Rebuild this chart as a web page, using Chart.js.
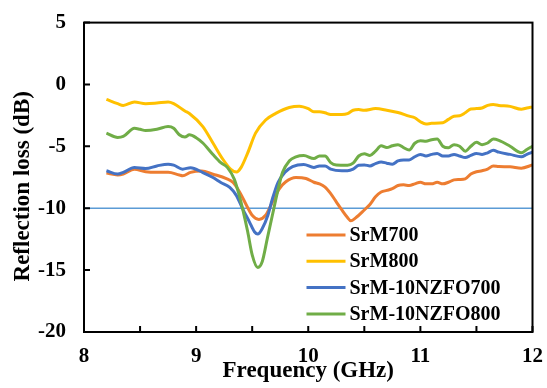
<!DOCTYPE html>
<html>
<head>
<meta charset="utf-8">
<script src="https://cdn.jsdelivr.net/npm/chart.js@4.4.1/dist/chart.umd.min.js"></script>
<style>
  html, body { margin: 0; padding: 0; background: #fff; }
  #wrap { width: 547px; height: 388px; }
</style>
</head>
<body>
<div id="wrap"><canvas id="rlChart" width="547" height="388"></canvas></div>
<script>
// series names
const seriesNames = ['SrM700', 'SrM800', 'SrM-10NZFO700', 'SrM-10NZFO800'];

// SrM700
const srm700Freq = [8.2, 8.3, 8.35, 8.45, 8.55, 8.65, 8.75, 8.85, 8.88, 8.95, 9.05, 9.15, 9.27, 9.33, 9.39, 9.45, 9.5, 9.56, 9.62, 9.68, 9.74, 9.8, 9.89, 9.98, 10.05, 10.1, 10.15, 10.2, 10.25, 10.3, 10.35, 10.38, 10.42, 10.5, 10.55, 10.6, 10.65, 10.7, 10.75, 10.8, 10.85, 10.9, 10.95, 11.0, 11.05, 11.1, 11.15, 11.2, 11.25, 11.3, 11.35, 11.4, 11.45, 11.5, 11.55, 11.6, 11.65, 11.7, 11.8, 11.9, 12.0];
const srm700Loss = [-7.16, -7.31, -7.24, -6.84, -7.05, -7.1, -7.1, -7.31, -7.37, -7.1, -6.99, -7.25, -7.6, -7.92, -8.72, -9.78, -10.57, -10.9, -10.57, -9.51, -8.45, -7.86, -7.52, -7.6, -7.9, -8.03, -8.29, -8.82, -9.48, -10.14, -10.75, -11.01, -10.8, -10.14, -9.69, -9.08, -8.69, -8.56, -8.42, -8.16, -8.11, -8.16, -8.03, -7.9, -8.03, -8.03, -7.9, -8.03, -7.9, -7.71, -7.68, -7.63, -7.24, -7.05, -6.97, -6.84, -6.58, -6.63, -6.65, -6.76, -6.5];

// SrM800
const srm800Freq = [8.2, 8.3, 8.35, 8.45, 8.55, 8.65, 8.75, 8.8, 8.9, 8.94, 9.06, 9.15, 9.24, 9.31, 9.36, 9.4, 9.46, 9.53, 9.62, 9.71, 9.83, 9.92, 10.0, 10.05, 10.1, 10.15, 10.2, 10.3, 10.35, 10.4, 10.45, 10.5, 10.6, 10.7, 10.8, 10.9, 10.95, 11.0, 11.05, 11.1, 11.2, 11.25, 11.3, 11.35, 11.4, 11.45, 11.5, 11.55, 11.6, 11.65, 11.7, 11.8, 11.9, 11.95, 12.0];
const srm800Loss = [-1.21, -1.55, -1.69, -1.42, -1.55, -1.5, -1.42, -1.55, -2.14, -2.34, -3.4, -4.73, -6.06, -6.86, -7.07, -6.72, -5.53, -3.93, -2.87, -2.34, -1.86, -1.75, -1.95, -2.21, -2.21, -2.29, -2.42, -2.42, -2.35, -2.08, -2.03, -2.08, -1.95, -2.08, -2.27, -2.56, -2.69, -3.01, -3.19, -3.14, -3.09, -2.82, -2.56, -2.53, -2.29, -1.98, -1.95, -1.9, -1.69, -1.61, -1.69, -1.77, -2.0, -1.9, -1.82];

// SrM-10NZFO700
const nzfo700Freq = [8.2, 8.3, 8.35, 8.45, 8.55, 8.65, 8.75, 8.8, 8.88, 8.95, 9.06, 9.15, 9.22, 9.3, 9.36, 9.415, 9.475, 9.52, 9.55, 9.59, 9.64, 9.68, 9.73, 9.79, 9.86, 9.96, 10.05, 10.1, 10.15, 10.2, 10.3, 10.35, 10.4, 10.45, 10.5, 10.55, 10.6, 10.65, 10.7, 10.75, 10.8, 10.85, 10.9, 10.95, 11.0, 11.05, 11.1, 11.15, 11.2, 11.25, 11.3, 11.35, 11.4, 11.45, 11.5, 11.55, 11.6, 11.65, 11.7, 11.8, 11.9, 11.95, 12.0];
const nzfo700Loss = [-6.97, -7.24, -7.1, -6.71, -6.79, -6.58, -6.44, -6.52, -6.84, -6.72, -7.12, -7.52, -7.92, -8.32, -8.98, -10.05, -11.1, -11.9, -12.09, -11.64, -10.57, -9.25, -7.92, -7.12, -6.64, -6.46, -6.71, -6.58, -6.58, -6.84, -6.97, -6.97, -6.84, -6.52, -6.5, -6.58, -6.39, -6.26, -6.36, -6.44, -6.18, -6.1, -6.1, -5.84, -5.65, -5.78, -5.65, -5.57, -5.78, -5.78, -5.65, -5.78, -5.91, -5.73, -5.57, -5.65, -5.52, -5.31, -5.47, -5.65, -5.84, -5.65, -5.47];

// SrM-10NZFO800
const nzfo800Freq = [8.2, 8.3, 8.35, 8.45, 8.5, 8.55, 8.65, 8.75, 8.8, 8.85, 8.9, 8.94, 9.0, 9.06, 9.15, 9.22, 9.28, 9.34, 9.385, 9.415, 9.46, 9.5, 9.55, 9.59, 9.635, 9.68, 9.725, 9.77, 9.83, 9.89, 9.96, 10.05, 10.1, 10.15, 10.2, 10.25, 10.35, 10.4, 10.45, 10.5, 10.55, 10.6, 10.65, 10.7, 10.75, 10.8, 10.85, 10.9, 10.95, 11.0, 11.05, 11.1, 11.15, 11.2, 11.25, 11.3, 11.35, 11.4, 11.45, 11.5, 11.55, 11.6, 11.65, 11.7, 11.8, 11.9, 11.95, 12.0];
const nzfo800Loss = [-3.93, -4.28, -4.2, -3.54, -3.62, -3.72, -3.62, -3.4, -3.54, -4.06, -4.25, -4.07, -4.3, -4.73, -5.66, -6.32, -6.72, -7.65, -8.98, -10.05, -11.9, -13.76, -14.78, -14.3, -12.44, -10.57, -8.72, -7.12, -6.19, -5.85, -5.74, -5.99, -5.78, -5.78, -6.31, -6.5, -6.52, -6.36, -5.78, -5.6, -5.73, -5.39, -4.95, -5.1, -4.95, -4.86, -5.1, -5.3, -4.75, -4.55, -4.59, -4.46, -4.41, -4.99, -5.12, -4.86, -4.99, -5.39, -4.99, -4.67, -4.86, -4.73, -4.41, -4.52, -4.99, -5.52, -5.25, -4.99];

// -10 dB reference
const refLevel = -10;
const freqRange = [8, 12];

const colors = ['#ED7D31', '#FFC000', '#4472C4', '#70AD47'];
const fontFamily = '"Liberation Serif", "Times New Roman", serif';

function toPoints(xs, ys) {
    let n = Math.min(xs.length, ys.length);
    let pts = [];
    for (let i = 0; i < n; i++) pts.push({ x: xs[i], y: ys[i] });
    return pts;
}

const seriesData = [
    toPoints(srm700Freq, srm700Loss),
    toPoints(srm800Freq, srm800Loss),
    toPoints(nzfo700Freq, nzfo700Loss),
    toPoints(nzfo800Freq, nzfo800Loss)
];

let datasets = seriesNames.map((name, i) => ({
    label: name,
    data: seriesData[i],
    borderColor: colors[i],
    backgroundColor: colors[i],
    borderWidth: 3,
    pointRadius: 0,
    cubicInterpolationMode: 'monotone',
    order: 4 - i
}));
datasets.push({
    label: 'ref',
    data: freqRange.map(f => ({ x: f, y: refLevel })),
    borderColor: '#5B9BD5',
    borderWidth: 1.5,
    pointRadius: 0,
    order: 10
});

// frame box + inward tick marks + y title
const frameTicks = {
    id: 'frameTicks',
    afterDraw(chart) {
        const { ctx, chartArea: a, scales: { x, y } } = chart;
        ctx.save();
        ctx.strokeStyle = '#000';
        ctx.lineWidth = 2;
        ctx.strokeRect(a.left, a.top, a.right - a.left, a.bottom - a.top);
        ctx.beginPath();
        x.ticks.forEach(t => {
            let px = x.getPixelForValue(t.value);
            ctx.moveTo(px, a.bottom);
            ctx.lineTo(px, a.bottom - 6);
        });
        y.ticks.forEach(t => {
            let py = y.getPixelForValue(t.value);
            ctx.moveTo(a.left, py);
            ctx.lineTo(a.left + 6, py);
        });
        ctx.stroke();

        // y axis title, a bit below the centre like the original
        ctx.translate(23, (a.top + a.bottom) / 2 + 9);
        ctx.rotate(-Math.PI / 2);
        ctx.font = 'bold 23px ' + fontFamily;
        ctx.fillStyle = '#000';
        ctx.textAlign = 'center';
        ctx.textBaseline = 'middle';
        ctx.fillText('Reflection loss (dB)', 0, 0);
        ctx.restore();
    }
};

// legend inside plot, lower right
const insideLegend = {
    id: 'insideLegend',
    afterDraw(chart) {
        const { ctx, chartArea: a } = chart;
        ctx.save();
        ctx.font = 'bold 20px ' + fontFamily;
        ctx.textBaseline = 'middle';
        ctx.textAlign = 'left';
        seriesNames.forEach((name, i) => {
            let yy = a.bottom - 97 + i * 26.3;
            ctx.strokeStyle = colors[i];
            ctx.lineWidth = 3;
            ctx.beginPath();
            ctx.moveTo(a.right - 226, yy);
            ctx.lineTo(a.right - 187, yy);
            ctx.stroke();
            ctx.fillStyle = '#000';
            ctx.fillText(name, a.right - 183, yy + 1);
        });
        ctx.restore();
    }
};

let ctx = document.getElementById('rlChart').getContext('2d');
let rlChart = new Chart(ctx, {
    type: 'line',
    data: { datasets: datasets },
    options: {
        responsive: false,
        animation: false,
        devicePixelRatio: 1,
        layout: { padding: { top: 17, right: 4, left: 0, bottom: 0 } },
        plugins: {
            legend: { display: false },
            tooltip: { enabled: false }
        },
        scales: {
            x: {
                type: 'linear',
                min: freqRange[0],
                max: freqRange[1],
                afterFit: s => { s.height = 56; },
                grid: { display: false },
                border: { display: false },
                ticks: {
                    stepSize: 0.5,
                    autoSkip: false,
                    maxRotation: 0,
                    padding: 4,
                    color: '#000',
                    font: { family: fontFamily, size: 21, weight: 'bold' },
                    callback: v => (Number.isInteger(v) ? String(v) : '')
                },
                title: {
                    display: true,
                    text: 'Frequency (GHz)',
                    color: '#000',
                    font: { family: fontFamily, size: 23, weight: 'bold' },
                    padding: { top: 0, bottom: 3 }
                }
            },
            y: {
                min: -20,
                max: 5,
                afterFit: s => { s.width = 84; },
                grid: { display: false },
                border: { display: false },
                ticks: {
                    stepSize: 5,
                    padding: 10,
                    color: '#000',
                    font: { family: fontFamily, size: 21, weight: 'bold' }
                },
                title: { display: false }
            }
        }
    },
    plugins: [frameTicks, insideLegend]
});
</script>
</body>
</html>
